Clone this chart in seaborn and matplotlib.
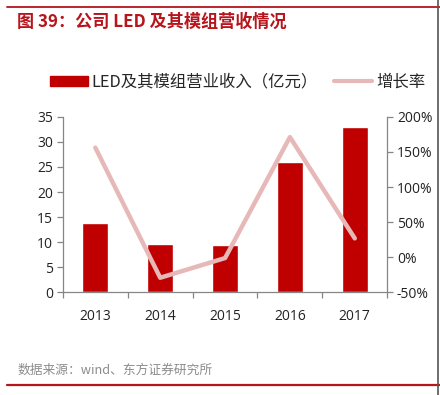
import pandas as pd
import seaborn as sns
import matplotlib.pyplot as plt
from matplotlib.patches import Patch
from matplotlib.lines import Line2D
from matplotlib.ticker import FuncFormatter, MultipleLocator

# data
years = ['2013', '2014', '2015', '2016', '2017']
revenue = [13.8, 9.7, 9.5, 26.0, 32.9]      # 亿元
growth = [156, -29, -1, 171, 27]            # %

df = pd.DataFrame({'year': years, 'revenue': revenue, 'growth': growth})

sns.set_theme(style="white")
plt.rcParams['font.family'] = ['Open Sans', 'Noto Sans CJK SC', 'DejaVu Sans']

bar_red = '#C00000'
line_pink = '#E6B9B8'
axis_grey = '#868686'
head_red = '#B8141C'

fig = plt.figure(figsize=(4.4, 3.95), dpi=100)
ax = fig.add_axes([0.143, 0.2595, 0.737, 0.445])

sns.barplot(data=df, x='year', y='revenue', color=bar_red, width=0.4,
            saturation=1, ax=ax)
ax.set_xlim(-0.5, 4.5)
ax.set_ylim(0, 35)
ax.yaxis.set_major_locator(MultipleLocator(5))

ax2 = ax.twinx()
sns.lineplot(data=df, x='year', y='growth', color=line_pink, linewidth=3.2,
             ax=ax2, legend=False)
ax2.set_ylim(-50, 200)
ax2.yaxis.set_major_locator(MultipleLocator(50))
ax2.yaxis.set_major_formatter(FuncFormatter(lambda v, p: f'{v:.0f}%'))
ax2.set_xlim(-0.5, 4.5)

for a in (ax, ax2):
    a.set_xlabel('')
    a.set_ylabel('')
    a.spines['top'].set_visible(False)
    for s in ('left', 'right', 'bottom'):
        a.spines[s].set_color(axis_grey)
        a.spines[s].set_linewidth(0.9)
    a.tick_params(axis='y', colors=axis_grey, labelcolor='#222222',
                  labelsize=10, length=4, width=0.9, direction='out', pad=3)
ax.spines['right'].set_visible(False)
ax2.spines['left'].set_visible(False)
ax2.spines['bottom'].set_visible(False)

# category ticks: labels centred, tick marks between the bars
ax.set_xticks(range(len(years)))
ax.set_xticklabels(years)
ax.set_xticks([i - 0.5 for i in range(len(years) + 1)], minor=True)
ax.tick_params(axis='x', which='major', length=0, labelsize=10,
               labelcolor='#222222', pad=12)
ax.tick_params(axis='x', which='minor', bottom=True, length=4, width=0.9,
               color=axis_grey, direction='out')

# legend
handles = [Patch(facecolor=bar_red, edgecolor=bar_red),
           Line2D([0], [0], color=line_pink, linewidth=3)]
labels = ['LED及其模组营业收入（亿元）', '增长率']
fig.legend(handles, labels, loc='center', bbox_to_anchor=(0.54, 0.792),
           ncol=2, frameon=False, handlelength=2.3,
           handleheight=0.55, handletextpad=0.25, columnspacing=1.0,
           prop={'family': ['Noto Sans CJK SC', 'DejaVu Sans'], 'size': 11.8})

# header, source and frame lines
fig.add_artist(Line2D([0.016, 1.0], [0.982, 0.982], color=head_red, linewidth=1.3))
fig.add_artist(Line2D([0.016, 1.0], [0.025, 0.025], color=head_red, linewidth=1.6))
fig.add_artist(Line2D([0.995, 0.995], [0.0, 1.0], color='#555555', linewidth=1.2))
fig.text(0.038, 0.944, '图 39：公司 LED 及其模组营收情况', color=head_red,
         fontsize=12.3, fontweight='bold', va='center', ha='left',
         family=['Noto Sans CJK SC', 'DejaVu Sans'])
fig.text(0.04, 0.063, '数据来源：wind、东方证券研究所', color='#8C8C8C',
         fontsize=9.2, va='center', ha='left',
         family=['Noto Sans CJK SC', 'DejaVu Sans'])

fig.savefig('out.png', dpi=100)
